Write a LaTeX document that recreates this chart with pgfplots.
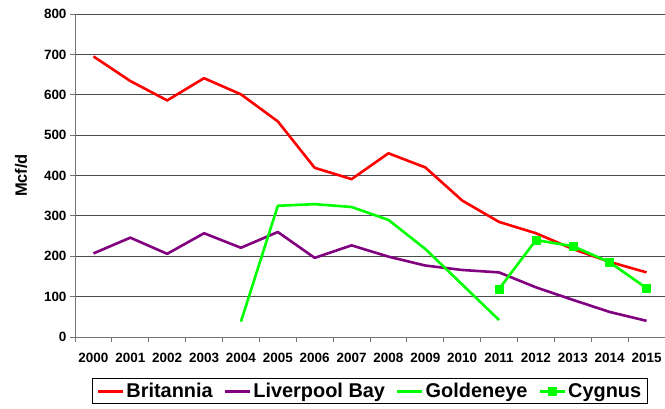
\documentclass[border=0pt]{standalone}
\usepackage{pgfplots}
\pgfplotsset{compat=1.18}
\usepackage{fontspec}
\setmainfont{Liberation Sans}
\definecolor{britred}{RGB}{255,0,0}
\definecolor{lbpurple}{RGB}{128,0,128}
\definecolor{limegreen}{RGB}{0,255,0}
\begin{document}
\begin{tikzpicture}
\useasboundingbox (-75bp,-72bp) rectangle (590bp,337bp);
\begin{axis}[
    scale only axis, width=590bp, height=323bp,
    xmin=-0.5, xmax=15.5, ymin=0, ymax=800,
    xtick={0,...,15},
    xticklabels={2000,2001,2002,2003,2004,2005,2006,2007,2008,2009,2010,2011,2012,2013,2014,2015},
    minor xtick={-0.5,0.5,...,15.5},
    major x tick style={draw=none},
    ytick={0,100,...,800},
    axis x line*=bottom, axis y line*=left,
    axis line style={-, black!55, line width=0.8bp},
    tick style={black!55, line width=0.8bp},
    tick align=outside, major tick length=5bp, minor tick length=5bp,
    ymajorgrids, grid style={black!70, line width=0.8bp},
    /pgf/number format/assume math mode=true,
    yticklabel={\pgfmathprintnumber[fixed]{\tick}},
    ticklabel style={font=\bfseries\fontsize{13.5}{15}\selectfont},
    xticklabel style={yshift=-8bp},
    ylabel={Mcf/d},
    ylabel style={font=\bfseries\fontsize{16.5}{18}\selectfont, at={(axis description cs:-0.0915,0.5)}, anchor=center},
    legend columns=4,
    legend style={at={(0.5,-0.128)}, anchor=north, draw=black, line width=0.8bp,
        font=\bfseries\fontsize{20}{22}\selectfont, inner xsep=4bp, inner ysep=2.5bp,
        /tikz/every even column/.append style={column sep=9bp}},
    legend image code/.code={\draw[mark repeat=2, mark phase=2, #1] plot coordinates {(0bp,0bp) (12.5bp,0bp) (25bp,0bp)};},
    every axis plot/.append style={line width=2.6bp, line join=round},
]
\addplot[britred, mark=none] coordinates {
(0,695) (1,634) (2,586) (3,641) (4,601) (5,534) (6,419) (7,391)
(8,455) (9,420) (10,338) (11,285) (12,257) (13,218) (14,186) (15,160)};
\addplot[lbpurple, mark=none] coordinates {
(0,207) (1,246) (2,206) (3,257) (4,221) (5,260) (6,196) (7,227)
(8,199) (9,177) (10,166) (11,160) (12,123) (13,92) (14,62) (15,40)};
\addplot[limegreen, mark=none] coordinates {
(4,38) (5,325) (6,329) (7,322) (8,290) (9,218) (10,130) (11,42)};
\addplot[limegreen, mark=square*, mark size=4bp, mark options={line width=0.5bp}] coordinates {
(11,119) (12,240) (13,225) (14,185) (15,121)};
\legend{Britannia, Liverpool Bay, Goldeneye, Cygnus}
\end{axis}
\end{tikzpicture}
\end{document}
